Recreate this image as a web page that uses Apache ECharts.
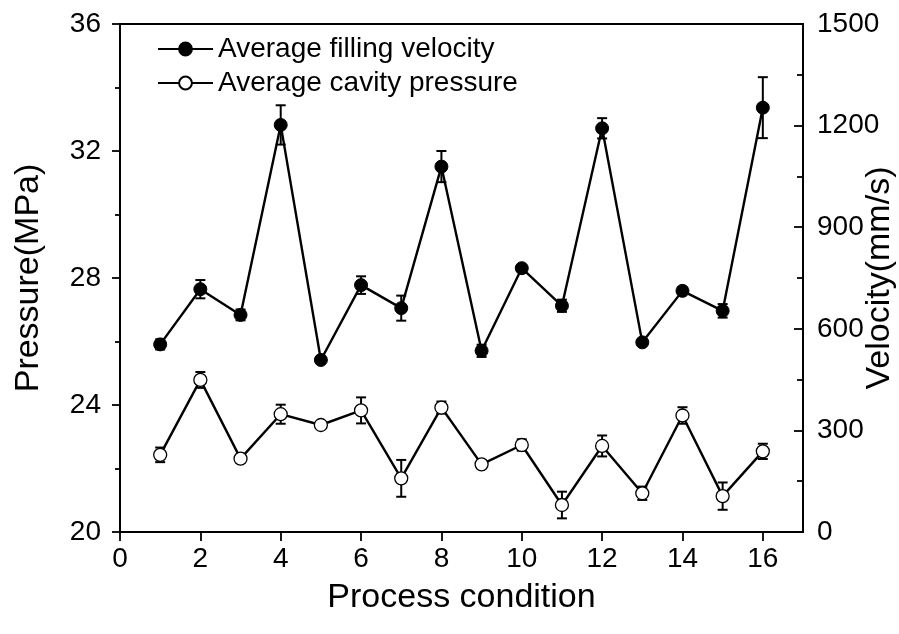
<!DOCTYPE html>
<html>
<head>
<meta charset="utf-8">
<script src="https://cdn.jsdelivr.net/npm/echarts@6/dist/echarts.min.js"></script>
<style>
  html, body { margin: 0; padding: 0; background: #fff; }
  #chart { width: 899px; height: 634px; }
</style>
</head>
<body>
<div id="chart"></div>
<script>
// process conditions 1..16
const conditions = [1, 2, 3, 4, 5, 6, 7, 8, 9, 10, 11, 12, 13, 14, 15, 16];
// average filling velocity (mm/s), right axis
const velocity = [554, 717, 641, 1202, 508, 729, 661, 1079, 535, 779, 668, 1192, 560, 712, 653, 1253];
const velocityErr = [15, 27, 16, 58, 8, 26, 37, 46, 18, 9, 18, 30, 5, 10, 20, 90];
// average cavity pressure (MPa), left axis
const pressure = [22.43, 24.79, 22.31, 23.71, 23.37, 23.83, 21.69, 23.92, 22.13, 22.74, 20.85, 22.71, 21.22, 23.67, 21.13, 22.54];
const pressureErr = [0.23, 0.25, 0.1, 0.3, 0.1, 0.41, 0.58, 0.19, 0.1, 0.18, 0.42, 0.33, 0.21, 0.26, 0.43, 0.24];
const xTicks = [0, 2, 4, 6, 8, 10, 12, 14, 16];

const FONT = "'Liberation Sans', Arial, sans-serif";

const chart = echarts.init(document.getElementById('chart'));

const errorBars = (vals, errs) =>
  conditions.map((c, i) => [c, vals[i] - errs[i], vals[i] + errs[i]]);

const renderErr = (params, api) => {
  const x = api.value(0);
  const lo = api.coord([x, api.value(1)]);
  const hi = api.coord([x, api.value(2)]);
  const cap = 5;
  const style = { stroke: '#000', lineWidth: 2 };
  return {
    type: 'group',
    children: [
      { type: 'line', shape: { x1: lo[0], y1: lo[1], x2: hi[0], y2: hi[1] }, style },
      { type: 'line', shape: { x1: lo[0] - cap, y1: lo[1], x2: lo[0] + cap, y2: lo[1] }, style },
      { type: 'line', shape: { x1: hi[0] - cap, y1: hi[1], x2: hi[0] + cap, y2: hi[1] }, style }
    ]
  };
};

const axisLine = { show: true, lineStyle: { color: '#000', width: 1.8 } };
const tickLine = { color: '#000', width: 1.8 };

const option = {
  animation: false,
  textStyle: { fontFamily: FONT, color: '#000' },
  grid: {
    left: 120, right: 96, top: 24, bottom: 102,
    outerBoundsMode: 'none',
    containLabel: false,
    show: true, borderColor: '#000', borderWidth: 1.8, backgroundColor: 'transparent'
  },
  legend: {
    orient: 'vertical',
    left: 152,
    top: 30,
    itemWidth: 55,
    itemHeight: 16,
    itemGap: 6,
    textStyle: { fontSize: 28, fontFamily: FONT, color: '#000' },
    data: ['Average filling velocity', 'Average cavity pressure']
  },
  xAxis: {
    type: 'value',
    min: 0,
    max: 17,
    interval: 2,
    name: 'Process condition',
    nameLocation: 'middle',
    nameGap: 49,
    nameMoveOverlap: false,
    nameTextStyle: { fontSize: 34, fontFamily: FONT, color: '#000' },
    axisLine,
    axisTick: { show: true, inside: false, length: 9, customValues: xTicks, lineStyle: tickLine },
    axisLabel: { fontSize: 28, fontFamily: FONT, color: '#000', margin: 13, customValues: xTicks },
    splitLine: { show: false }
  },
  yAxis: [
    {
      type: 'value',
      position: 'left',
      min: 20,
      max: 36,
      interval: 4,
      name: 'Pressure(MPa)',
      nameLocation: 'middle',
      nameRotate: 90,
      nameGap: 74,
      nameMoveOverlap: false,
      nameTextStyle: { fontSize: 34, fontFamily: FONT, color: '#000' },
      axisLine,
      axisTick: { show: true, inside: false, length: 8, lineStyle: tickLine },
      minorTick: { show: true, splitNumber: 2, length: 5, lineStyle: tickLine },
      axisLabel: { fontSize: 28, fontFamily: FONT, color: '#000', margin: 19 },
      splitLine: { show: false }
    },
    {
      type: 'value',
      position: 'right',
      min: 0,
      max: 1500,
      interval: 300,
      name: 'Velocity(mm/s)',
      nameLocation: 'middle',
      nameRotate: 90,
      nameGap: 60,
      nameMoveOverlap: false,
      nameTextStyle: { fontSize: 34, fontFamily: FONT, color: '#000' },
      axisLine,
      axisTick: { show: true, inside: true, length: 9, lineStyle: tickLine },
      minorTick: { show: true, splitNumber: 2, length: 6, lineStyle: tickLine },
      axisLabel: { fontSize: 28, fontFamily: FONT, color: '#000', margin: 14, formatter: v => String(v) },
      splitLine: { show: false }
    }
  ],
  series: [
    {
      name: 'velocity error',
      type: 'custom',
      yAxisIndex: 1,
      z: 1,
      renderItem: renderErr,
      encode: { x: 0, y: [1, 2] },
      data: errorBars(velocity, velocityErr)
    },
    {
      name: 'pressure error',
      type: 'custom',
      yAxisIndex: 0,
      z: 1,
      renderItem: renderErr,
      encode: { x: 0, y: [1, 2] },
      data: errorBars(pressure, pressureErr)
    },
    {
      name: 'Average filling velocity',
      type: 'line',
      yAxisIndex: 1,
      z: 3,
      symbol: 'circle',
      symbolSize: 13,
      lineStyle: { color: '#000', width: 2.4 },
      itemStyle: { color: '#000', borderColor: '#000', borderWidth: 1 },
      data: conditions.map((c, i) => [c, velocity[i]])
    },
    {
      name: 'Average cavity pressure',
      type: 'line',
      yAxisIndex: 0,
      z: 3,
      symbol: 'circle',
      symbolSize: 13,
      lineStyle: { color: '#000', width: 2.4 },
      itemStyle: { color: '#fff', borderColor: '#000', borderWidth: 1.3 },
      data: conditions.map((c, i) => [c, pressure[i]])
    }
  ]
};

chart.setOption(option);
</script>
</body>
</html>
